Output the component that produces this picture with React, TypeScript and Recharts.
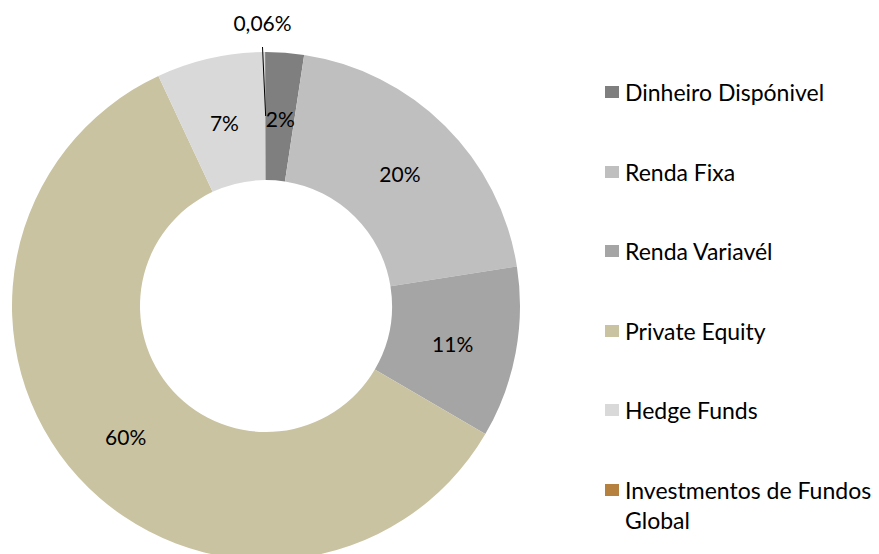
import { PieChart, Pie, Cell, Legend } from 'recharts'

const categories = [
    'Dinheiro Dispónivel',
    'Renda Fixa',
    'Renda Variavél',
    'Private Equity',
    'Hedge Funds',
    'Investmentos de Fundos Global',
]
// slice sizes (labels are rounded)
const shares = [2.4, 20.1, 10.9, 59.6, 6.9, 0.06]
const labels = ['2%', '20%', '11%', '60%', '7%', '0,06%']
const colors = ['#7f7f7f', '#bfbfbf', '#a5a5a5', '#c9c3a1', '#d9d9d9', '#b6803f']

const data = categories.map((name, i) => ({ name, value: shares[i], label: labels[i] }))

const RAD = Math.PI / 180
const FONT = 'Lato, "Open Sans", sans-serif'

function SliceLabel(props: any) {
    const { cx, cy, midAngle, innerRadius, outerRadius, value, index } = props
    const r = (innerRadius + outerRadius) / 2
    const x = cx + r * Math.cos(-midAngle * RAD)
    const y = cy + r * Math.sin(-midAngle * RAD)
    if (value < 1) {
        // tiny slice: label outside with a leader line
        const r2 = outerRadius + 5
        const x2 = cx + r2 * Math.cos(-midAngle * RAD) - 3
        const y2 = cy + r2 * Math.sin(-midAngle * RAD)
        return (
            <g>
                <line x1={x} y1={y} x2={x2} y2={y2} stroke="#000" strokeWidth={1} />
                <text x={x2} y={y2 - 16} textAnchor="middle" fill="#000" fontSize={21} fontFamily={FONT}>
                    {labels[index]}
                </text>
            </g>
        )
    }
    return (
        <text x={x} y={y + 2} textAnchor="middle" dominantBaseline="central" fill="#000" fontSize={21} fontFamily={FONT}>
            {labels[index]}
        </text>
    )
}

function LegendList() {
    return (
        <ul style={{ listStyle: 'none', margin: 0, padding: 0, fontFamily: FONT }}>
            {data.map((d, i) => (
                <li key={d.name} style={{ display: 'flex', alignItems: 'flex-start', height: 79.5 }}>
                    <span
                        style={{
                            display: 'inline-block',
                            width: 14,
                            height: 12,
                            marginTop: 9,
                            marginRight: 6,
                            background: colors[i],
                            flexShrink: 0,
                        }}
                    />
                    <span style={{ fontSize: 23, lineHeight: '30px', color: '#000', width: 254 }}>{d.name}</span>
                </li>
            ))}
        </ul>
    )
}

export default function App() {
    return (
        <div style={{ position: 'absolute', left: 0, top: 0, width: 879, height: 554, background: '#fff' }}>
            <PieChart width={879} height={554} margin={{ top: 0, right: 0, bottom: 0, left: 0 }}>
                <Pie
                    data={data}
                    dataKey="value"
                    nameKey="name"
                    cx={266}
                    cy={306}
                    innerRadius={126}
                    outerRadius={254}
                    startAngle={90}
                    endAngle={-270}
                    stroke="none"
                    label={SliceLabel}
                    labelLine={false}
                    isAnimationActive={false}
                >
                    {data.map((d, i) => (
                        <Cell key={d.name} fill={colors[i]} />
                    ))}
                </Pie>
                <Legend
                    content={<LegendList />}
                    wrapperStyle={{ left: 605, top: 77, width: 274 }}
                    layout="vertical"
                />
            </PieChart>
        </div>
    )
}
